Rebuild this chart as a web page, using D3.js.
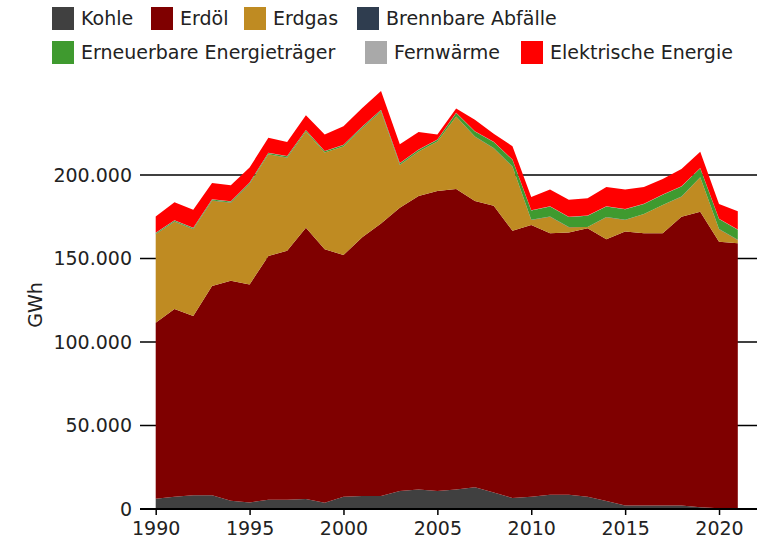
<!DOCTYPE html>
<html>
<head>
<meta charset="utf-8">
<script src="https://cdn.jsdelivr.net/npm/d3@7"></script>
<style>
  body { margin: 0; background: #fff; }
  svg { display: block; font-family: "DejaVu Sans", sans-serif; }
</style>
</head>
<body>
<div id="chart"></div>
<script>
const years = [1990, 1991, 1992, 1993, 1994, 1995, 1996, 1997, 1998, 1999,
  2000, 2001, 2002, 2003, 2004, 2005, 2006, 2007, 2008, 2009,
  2010, 2011, 2012, 2013, 2014, 2015, 2016, 2017, 2018, 2019, 2020, 2021];

const kohle = [6200, 7300, 8200, 8200, 5000, 3900, 5500, 5500, 6000, 3700,
  7300, 7800, 7800, 10800, 11700, 10800, 11700, 13000, 9900, 6600,
  7300, 8500, 8500, 7300, 4800, 2100, 2100, 2100, 2100, 1100, 500, 500];
const erdoel = [105400, 112500, 107400, 125300, 131700, 130600, 146000, 149200, 162400, 151800,
  144800, 154900, 163200, 169600, 175700, 179600, 179900, 171400, 171700, 160000,
  162800, 156600, 157000, 160800, 156700, 164000, 163000, 163000, 172900, 176900, 159600, 158600];
const erdgas = [52900, 52200, 51900, 51100, 46700, 60100, 60900, 55700, 57600, 57900,
  64900, 65300, 67000, 25600, 26600, 29600, 43400, 38500, 34400, 38400,
  3000, 9900, 3200, 700, 13200, 7000, 11500, 16900, 12000, 20600, 7400, 2000];
const abfaelle = [100, 100, 100, 100, 100, 100, 100, 100, 100, 100,
  100, 100, 100, 100, 100, 100, 100, 100, 100, 100,
  100, 100, 100, 100, 100, 100, 100, 100, 100, 100, 100, 100];
const erneuerbar = [700, 700, 700, 700, 700, 700, 700, 750, 750, 750,
  800, 800, 850, 900, 950, 1000, 2000, 3000, 3600, 4000,
  5500, 6000, 6000, 6700, 6300, 6300, 6000, 6000, 6000, 5400, 6100, 6000];
const fernwaerme = [150, 150, 150, 150, 150, 150, 150, 150, 150, 150,
  150, 150, 150, 150, 150, 150, 150, 150, 150, 150,
  150, 150, 150, 150, 150, 150, 150, 150, 150, 150, 150, 150];
const elektrisch = [9700, 10700, 10800, 9700, 9500, 8900, 8900, 8400, 8800, 9900,
  11200, 11000, 11200, 11200, 10600, 3000, 2500, 7000, 4800, 8000,
  8000, 10000, 10300, 10400, 11600, 11600, 10000, 9400, 10400, 9600, 8800, 10900];

const seriesInfo = [
  { key: "kohle", label: "Kohle", color: "#404040", values: kohle },
  { key: "erdoel", label: "Erdöl", color: "#7f0000", values: erdoel },
  { key: "erdgas", label: "Erdgas", color: "#bf8b22", values: erdgas },
  { key: "abfaelle", label: "Brennbare Abfälle", color: "#2f3d4f", values: abfaelle },
  { key: "erneuerbar", label: "Erneuerbare Energieträger", color: "#3f9a2f", values: erneuerbar },
  { key: "fernwaerme", label: "Fernwärme", color: "#a9a9a9", values: fernwaerme },
  { key: "elektrisch", label: "Elektrische Energie", color: "#ff0000", values: elektrisch },
];

const yTicks = [0, 50000, 100000, 150000, 200000];
const xTicks = [1990, 1995, 2000, 2005, 2010, 2015, 2020];

const width = 757;
const height = 555;

const tableData = years.map((yr, i) => {
  const row = { year: yr };
  seriesInfo.forEach((s) => (row[s.key] = s.values[i]));
  return row;
});

const svg = d3.select("#chart").append("svg")
  .attr("width", width)
  .attr("height", height);

const x = d3.scaleLinear().domain([1990, 2021]).range([155.7, 737.8]);
const y = d3.scaleLinear().domain([0, 250000]).range([509, 91.5]);

const fmt = (v) => d3.format(",")(v).replace(/,/g, ".");

// gridlines behind the areas
svg.append("g")
  .selectAll("line")
  .data(yTicks.filter((d) => d > 0))
  .join("line")
  .attr("x1", 140)
  .attr("x2", width)
  .attr("y1", (d) => y(d))
  .attr("y2", (d) => y(d))
  .attr("stroke", "#000")
  .attr("stroke-width", 1.5);

const stack = d3.stack().keys(seriesInfo.map((s) => s.key));
const stacked = stack(tableData);

const area = d3.area()
  .x((d) => x(d.data.year))
  .y0((d) => y(d[0]))
  .y1((d) => y(d[1]));

svg.append("g")
  .selectAll("path")
  .data(stacked)
  .join("path")
  .attr("d", area)
  .attr("fill", (d, i) => seriesInfo[i].color);

// y labels
svg.append("g")
  .selectAll("text")
  .data(yTicks)
  .join("text")
  .attr("x", 132)
  .attr("y", (d) => y(d))
  .attr("dy", "0.36em")
  .attr("text-anchor", "end")
  .attr("font-size", 19)
  .attr("fill", "#222")
  .text(fmt);

// x axis
const xAxis = d3.axisBottom(x)
  .tickValues(xTicks)
  .tickFormat(d3.format("d"))
  .tickSize(6)
  .tickSizeOuter(0);

const xg = svg.append("g")
  .attr("transform", `translate(0, ${y(0)})`)
  .call(xAxis);
xg.select(".domain").remove();
xg.selectAll(".tick line").attr("stroke", "#000").attr("stroke-width", 1.5);
xg.selectAll(".tick text")
  .attr("font-family", "DejaVu Sans, sans-serif")
  .attr("font-size", 19)
  .attr("fill", "#222")
  .attr("y", 13);
svg.append("line")
  .attr("x1", 140)
  .attr("x2", width)
  .attr("y1", y(0))
  .attr("y2", y(0))
  .attr("stroke", "#000")
  .attr("stroke-width", 2);

svg.append("text")
  .attr("transform", "translate(42, 305) rotate(-90)")
  .attr("text-anchor", "middle")
  .attr("font-size", 19)
  .attr("fill", "#222")
  .text("GWh");

// legend
const legendPos = [
  { x: 52, y: 7 }, { x: 151, y: 7 }, { x: 244, y: 7 }, { x: 357, y: 7 },
  { x: 52, y: 41 }, { x: 365, y: 41 }, { x: 521, y: 41 },
];
const legend = svg.append("g")
  .selectAll("g")
  .data(seriesInfo)
  .join("g")
  .attr("transform", (d, i) => `translate(${legendPos[i].x}, ${legendPos[i].y})`);
legend.append("rect")
  .attr("width", 22)
  .attr("height", 23)
  .attr("fill", (d) => d.color);
legend.append("text")
  .attr("x", 29)
  .attr("y", 11.5)
  .attr("dy", "0.36em")
  .attr("font-size", 19)
  .attr("fill", "#222")
  .text((d) => d.label);
</script>
</body>
</html>
